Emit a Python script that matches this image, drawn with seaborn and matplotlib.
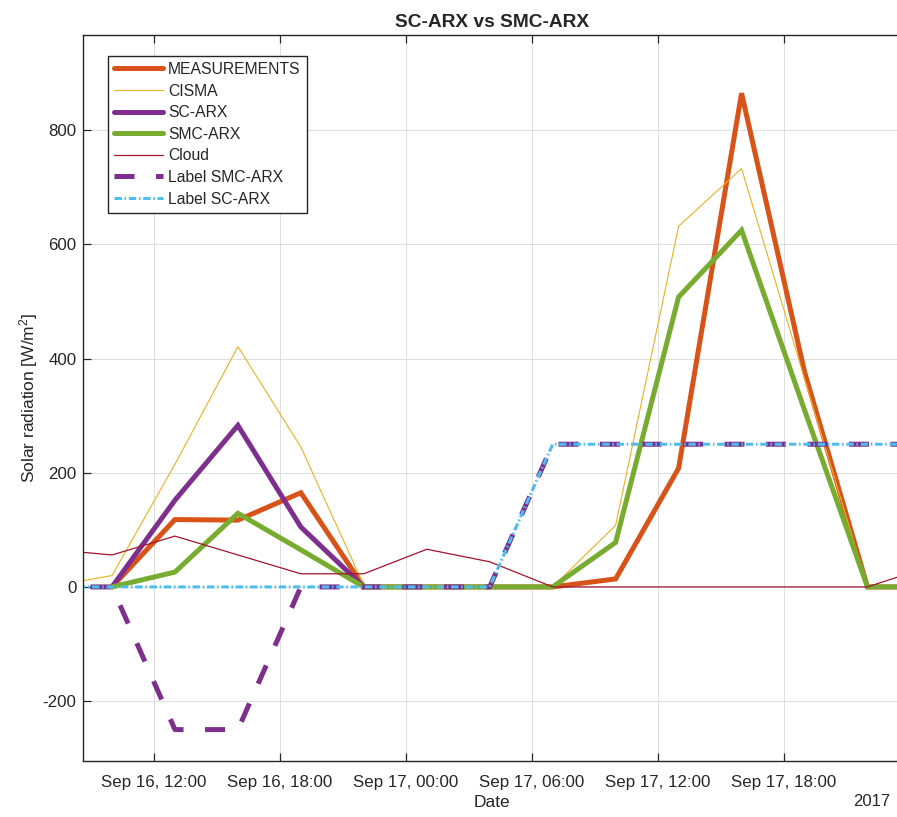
import matplotlib
matplotlib.use("Agg")
import matplotlib.pyplot as plt
import matplotlib.dates as mdates
import numpy as np
import pandas as pd
import seaborn as sns

NA = np.nan

# Sample times (3-hourly)
times = [
    "2017-09-16 07:00", "2017-09-16 10:00", "2017-09-16 13:00", "2017-09-16 16:00",
    "2017-09-16 19:00", "2017-09-16 22:00", "2017-09-17 01:00", "2017-09-17 04:00",
    "2017-09-17 07:00", "2017-09-17 10:00", "2017-09-17 13:00", "2017-09-17 16:00",
    "2017-09-17 19:00", "2017-09-17 22:00", "2017-09-18 01:00",
]

measurements = [NA, 0, 118, 117, 165, 0, 0, 0, 0, 14, 208, 865, 377, 0, 0]
cisma = [0, 20, 215, 421, 245, 3, 0, 0, 0, 108, 632, 733, 365, 0, 0]
sc_arx = [NA, 0, 152, 283, 105, 0, NA, NA, NA, NA, NA, NA, NA, NA, NA]
smc_arx = [NA, 0, 26, 129, 65, 0, 0, 0, 0, 78, 508, 625, 310, 0, 0]
cloud = [66, 56, 89, 56, 23, 23, 66, 44, 0, 0, 0, 0, 0, 0, 36]
label_smc_arx = [0, 0, -250, -250, 0, 0, 0, 0, 250, 250, 250, 250, 250, 250, 250]
label_sc_arx = [0, 0, 0, 0, 0, 0, 0, 0, 250, 250, 250, 250, 250, 250, 250]

series_names = ["MEASUREMENTS", "CISMA", "SC-ARX", "SMC-ARX", "Cloud",
                "Label SMC-ARX", "Label SC-ARX"]

sns.set_style("ticks")
plt.rcParams["font.family"] = ["Liberation Sans", "DejaVu Sans"]
plt.rcParams["mathtext.fontset"] = "custom"
plt.rcParams["mathtext.rm"] = "Liberation Sans"
plt.rcParams["mathtext.it"] = "Liberation Sans:italic"
plt.rcParams["axes.unicode_minus"] = False

df = pd.DataFrame({
    "time": pd.to_datetime(times),
    "MEASUREMENTS": measurements,
    "CISMA": cisma,
    "SC-ARX": sc_arx,
    "SMC-ARX": smc_arx,
    "Cloud": cloud,
    "Label SMC-ARX": label_smc_arx,
    "Label SC-ARX": label_sc_arx,
})

styles = {
    "MEASUREMENTS": dict(color="#D95319", lw=3.6, dashes=None),
    "CISMA": dict(color="#EDB120", lw=0.8, dashes=None),
    "SC-ARX": dict(color="#7E2F8E", lw=3.6, dashes=None),
    "SMC-ARX": dict(color="#77AC30", lw=3.6, dashes=None),
    "Cloud": dict(color="#A2142F", lw=0.9, dashes=None),
    "Label SMC-ARX": dict(color="#7E2F8E", lw=3.6, dashes=(4.0, 4.3)),
    "Label SC-ARX": dict(color="#4DBEEE", lw=2.2, dashes=(2.4, 0.9, 0.5, 0.9)),
}

fig = plt.figure(figsize=(8.97, 8.17), dpi=100)
W, H = 897.0, 817.0
ax_l, ax_r, ax_t, ax_b = 83.3, 900.0, 35.0, 761.0
ax = fig.add_axes([ax_l / W, 1 - ax_b / H, (ax_r - ax_l) / W, (ax_b - ax_t) / H])

handles = []
for name in series_names:
    st = styles[name]
    sub = df[["time", name]].dropna()
    sns.lineplot(data=sub, x="time", y=name, ax=ax, color=st["color"],
                 linewidth=st["lw"], label=name, legend=False)
    line = ax.lines[-1]
    if st["dashes"] is not None:
        line.set_dashes(st["dashes"])
    line.set_solid_joinstyle("miter")
    handles.append(line)

ax.set_xlim(pd.Timestamp("2017-09-16 08:38"), pd.Timestamp("2017-09-17 23:33"))
ax.set_ylim(-305, 967)
ax.set_yticks([-200, 0, 200, 400, 600, 800])

ax.xaxis.set_major_locator(mdates.HourLocator(byhour=[0, 6, 12, 18]))
ax.xaxis.set_major_formatter(mdates.DateFormatter("%b %d, %H:%M"))

ax.grid(True, color="#dedede", linewidth=0.7)
ax.set_axisbelow(True)
for side in ["left", "bottom", "top"]:
    ax.spines[side].set_color("#262626")
    ax.spines[side].set_linewidth(1.0)
ax.spines["right"].set_visible(False)

ax.tick_params(axis="both", direction="in", length=6, width=0.9,
               color="#262626", labelcolor="#262626", labelsize=12.2,
               top=True, right=False)
ax.tick_params(axis="x", pad=10)
ax.tick_params(axis="y", pad=5)

ax.set_xlabel("Date", fontsize=12.5, color="#262626", labelpad=4)
ax.set_ylabel("Solar radiation [W/m$^{2}$]", fontsize=12.5, color="#262626", labelpad=2)
ax.set_title("SC-ARX vs SMC-ARX", fontsize=13.8, fontweight="bold", pad=6)

fig.text(890 / W, 1 - 801 / H, "2017", ha="right", va="center",
         fontsize=12, color="#262626")

leg = ax.legend(handles=handles, labels=series_names, loc="upper left",
                bbox_to_anchor=((108 - ax_l) / (ax_r - ax_l), (ax_b - 55.7) / (ax_b - ax_t)),
                borderaxespad=0, fontsize=11.3, handlelength=3.1, handletextpad=0.33,
                labelspacing=0.42, borderpad=0.4, fancybox=False, frameon=True,
                framealpha=1.0, edgecolor="#262626")
leg.get_frame().set_linewidth(1.0)
for t in leg.get_texts():
    t.set_color("#262626")

fig.savefig("out.png", dpi=100)
